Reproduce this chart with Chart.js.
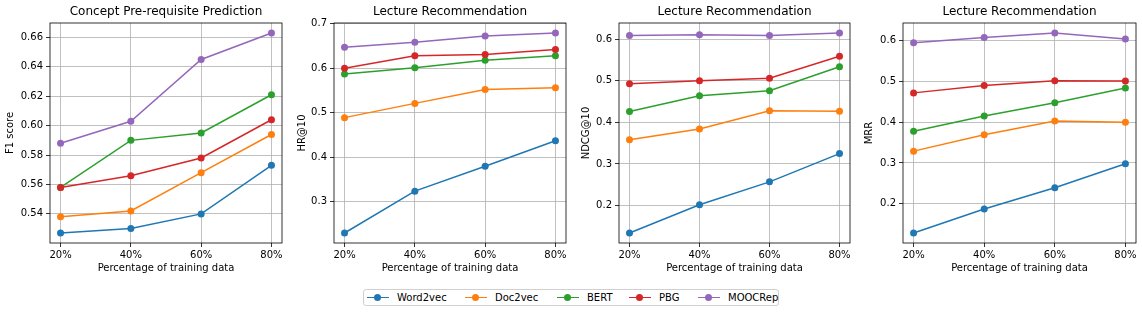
<!DOCTYPE html>
<html>
<head>
<meta charset="utf-8">
<script src="https://cdn.jsdelivr.net/npm/chart.js@4"></script>
<style>
  body { margin: 0; background: #fff; font-family: "DejaVu Sans", sans-serif; }
  #page { position: relative; width: 1142px; height: 314px; overflow: hidden; }
  .panel { position: absolute; top: 0; }
  #legend {
    position: absolute; left: 363px; top: 289px; width: 416px; height: 17px;
    border: 1px solid #d0d0d0; border-radius: 3px; box-sizing: border-box;
    font-size: 10px; color: #000;
  }
  .item { position: absolute; top: 2px; height: 12px; line-height: 12px; white-space: nowrap; }
  .sample { position: absolute; top: 5px; width: 22px; height: 0; border-top: 1.5px solid; }
  .dot { position: absolute; left: 7px; top: -4.5px; width: 7px; height: 7px; border-radius: 50%; }
  .label { position: absolute; top: 0; }
</style>
</head>
<body>
<div id="page">
  <div id="legend"></div>
</div>
<script>
// x categories
const xLabels = ["20%", "40%", "60%", "80%"];

const methods = ["Word2vec", "Doc2vec", "BERT", "PBG", "MOOCRep"];
const methodColors = ["#1f77b4", "#ff7f0e", "#2ca02c", "#d62728", "#9467bd"];

// Concept Pre-requisite Prediction, F1 score
const f1Word2vec = [0.527, 0.530, 0.540, 0.573];
const f1Doc2vec = [0.538, 0.542, 0.568, 0.594];
const f1Bert = [0.558, 0.590, 0.595, 0.621];
const f1Pbg = [0.558, 0.566, 0.578, 0.604];
const f1MoocRep = [0.588, 0.603, 0.645, 0.663];
const f1Ticks = [0.54, 0.56, 0.58, 0.60, 0.62, 0.64, 0.66];

// Lecture Recommendation, HR@10
const hrWord2vec = [0.230, 0.324, 0.380, 0.437];
const hrDoc2vec = [0.489, 0.521, 0.552, 0.556];
const hrBert = [0.587, 0.601, 0.618, 0.628];
const hrPbg = [0.600, 0.628, 0.631, 0.642];
const hrMoocRep = [0.647, 0.658, 0.672, 0.679];
const hrTicks = [0.3, 0.4, 0.5, 0.6, 0.7];

// Lecture Recommendation, NDCG@10
const ndcgWord2vec = [0.134, 0.202, 0.257, 0.325];
const ndcgDoc2vec = [0.358, 0.384, 0.428, 0.427];
const ndcgBert = [0.426, 0.464, 0.476, 0.534];
const ndcgPbg = [0.493, 0.500, 0.506, 0.559];
const ndcgMoocRep = [0.609, 0.611, 0.609, 0.615];
const ndcgTicks = [0.2, 0.3, 0.4, 0.5, 0.6];

// Lecture Recommendation, MRR
const mrrWord2vec = [0.128, 0.187, 0.239, 0.298];
const mrrDoc2vec = [0.329, 0.369, 0.403, 0.400];
const mrrBert = [0.378, 0.415, 0.448, 0.484];
const mrrPbg = [0.472, 0.490, 0.502, 0.501];
const mrrMoocRep = [0.595, 0.608, 0.619, 0.604];
const mrrTicks = [0.2, 0.3, 0.4, 0.5, 0.6];

const FONT = "DejaVu Sans";
Chart.defaults.color = "#000";
Chart.defaults.font.family = FONT;
Chart.defaults.font.size = 10;

// boxes in page pixels: canvas left, y-axis width, canvas width
const panels = [
  { title: "Concept Pre-requisite Prediction", yTitle: "F1 score", series: [f1Word2vec, f1Doc2vec, f1Bert, f1Pbg, f1MoocRep], ticks: f1Ticks, digits: 2, left: 0, yW: 50, width: 286 },
  { title: "Lecture Recommendation", yTitle: "HR@10", series: [hrWord2vec, hrDoc2vec, hrBert, hrPbg, hrMoocRep], ticks: hrTicks, digits: 1, left: 292, yW: 42, width: 278 },
  { title: "Lecture Recommendation", yTitle: "NDCG@10", series: [ndcgWord2vec, ndcgDoc2vec, ndcgBert, ndcgPbg, ndcgMoocRep], ticks: ndcgTicks, digits: 1, left: 576, yW: 43, width: 278 },
  { title: "Lecture Recommendation", yTitle: "MRR", series: [mrrWord2vec, mrrDoc2vec, mrrBert, mrrPbg, mrrMoocRep], ticks: mrrTicks, digits: 1, left: 859, yW: 44, width: 281 },
];

// black frame round the plot area, like matplotlib spines
const framePlugin = {
  id: "frame",
  afterDatasetsDraw(chart) {
    const { ctx, chartArea: a } = chart;
    ctx.save();
    ctx.strokeStyle = "#000";
    ctx.lineWidth = 0.8;
    ctx.strokeRect(a.left, a.top, a.right - a.left, a.bottom - a.top);
    ctx.restore();
  },
};

// matplotlib-style 5% margins
function paddedRange(series) {
  const all = series.flat();
  const lo = Math.min(...all), hi = Math.max(...all);
  const m = (hi - lo) * 0.05;
  return [lo - m, hi + m];
}

const page = document.getElementById("page");

panels.forEach((p) => {
  const canvas = document.createElement("canvas");
  canvas.className = "panel";
  canvas.width = p.width;
  canvas.height = 280;
  canvas.style.left = p.left + "px";
  page.appendChild(canvas);

  const [yMin, yMax] = paddedRange(p.series);

  new Chart(canvas.getContext("2d"), {
    type: "line",
    data: {
      datasets: p.series.map((values, i) => ({
        label: methods[i],
        data: values.map((v, j) => ({ x: j, y: v })),
        borderColor: methodColors[i],
        backgroundColor: methodColors[i],
        borderWidth: 1.5,
        pointRadius: 3.5,
        pointBorderWidth: 0,
        tension: 0,
        order: methods.length - 1 - i,
      })),
    },
    options: {
      responsive: false,
      animation: false,
      layout: { padding: { left: 0, right: 2, top: 0, bottom: 0 } },
      plugins: {
        legend: { display: false },
        tooltip: { enabled: false },
        title: {
          display: true,
          text: p.title,
          fullSize: false,
          font: { family: FONT, size: 12, weight: "normal", lineHeight: 1.2 },
          color: "#000",
          padding: { top: 5, bottom: 3.6 },
        },
      },
      scales: {
        x: {
          type: "linear",
          min: -0.15,
          max: 3.15,
          afterBuildTicks: (s) => { s.ticks = xLabels.map((_, i) => ({ value: i })); },
          afterFit: (s) => { s.height = 37; },
          ticks: { callback: (v) => xLabels[v], padding: 2, maxRotation: 0, font: { size: 10 } },
          grid: { color: "#b0b0b0", lineWidth: 0.8, tickLength: 4, tickColor: "#000" },
          border: { display: false },
          title: { display: true, text: "Percentage of training data", font: { size: 10, lineHeight: 1.2 }, padding: { top: 2, bottom: 6 } },
        },
        y: {
          type: "linear",
          min: yMin,
          max: yMax,
          afterBuildTicks: (s) => { s.ticks = p.ticks.map((v) => ({ value: v })); },
          afterFit: (s) => { s.width = p.yW; },
          ticks: { callback: (v) => v.toFixed(p.digits), padding: 3, font: { size: 10 } },
          grid: { color: "#b0b0b0", lineWidth: 0.8, tickLength: 4, tickColor: "#000" },
          border: { display: false },
          title: { display: true, text: p.yTitle, font: { size: 10, lineHeight: 1.2 }, padding: { top: 4, bottom: 0 } },
        },
      },
    },
    plugins: [framePlugin],
  });
});

// shared legend under the panels
const legendX = [3, 101, 193, 265, 334];
const legend = document.getElementById("legend");
methods.forEach((name, i) => {
  const item = document.createElement("div");
  item.className = "item";
  item.style.left = legendX[i] + "px";
  item.innerHTML =
    `<div class="sample" style="border-color:${methodColors[i]}"><div class="dot" style="background:${methodColors[i]}"></div></div>` +
    `<span class="label" style="left:30px">${name}</span>`;
  legend.appendChild(item);
});
</script>
</body>
</html>
